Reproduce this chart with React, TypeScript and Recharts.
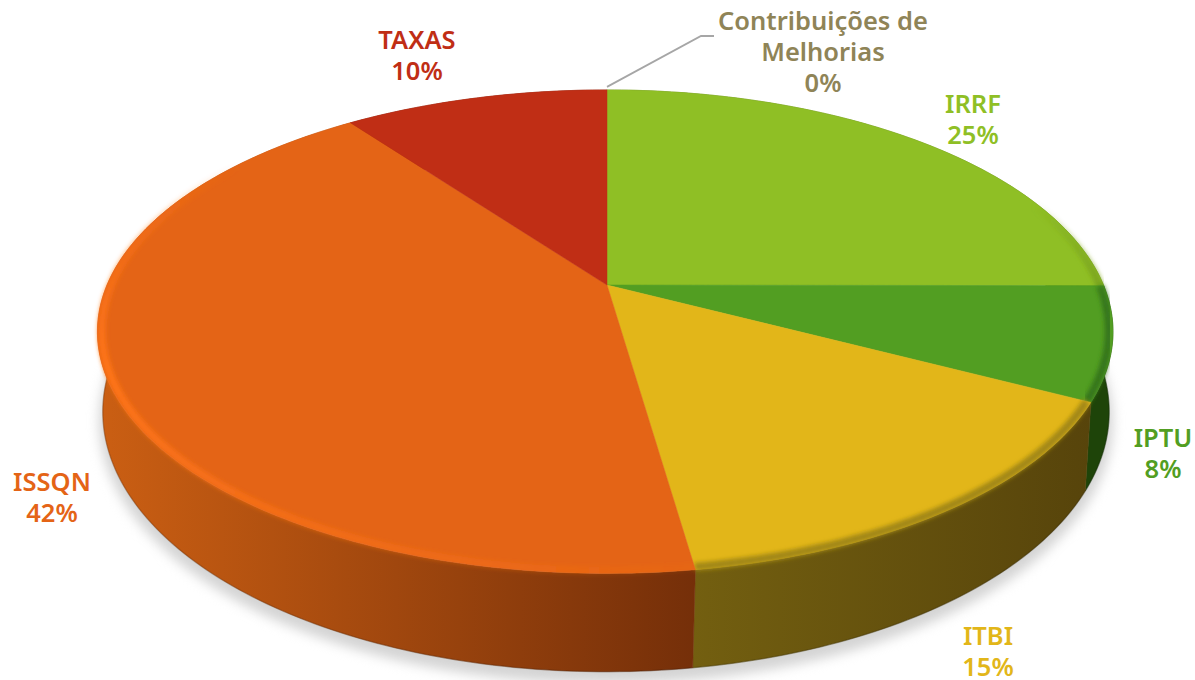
import { Pie, PieChart } from "recharts";

// tax revenue share
const categories = ["IRRF", "IPTU", "ITBI", "ISSQN", "TAXAS", "Contribuições de Melhorias"];
const shares = [25.05, 7.55, 15.1, 42.2, 10.1, 0];

const faceColors = ["#8fbf25", "#529e22", "#e2b619", "#e46416", "#c02e15", "#8f8457"];
const bevelColors = ["#789f1e", "#35751a", "#a08614", "#ff7518", "#c02e15", "#8f8457"];
const wallLeftColors = ["#5f8016", "#1e4409", "#735f10", "#cb5f13", "#7d1e0d", "#5f5838"];
const wallRightColors = ["#5f8016", "#1e4409", "#57440b", "#752f09", "#7d1e0d", "#5f5838"];

// label centres and line breaks
const labelLines = [["IRRF"], ["IPTU"], ["ITBI"], ["ISSQN"], ["TAXAS"], ["Contribuições de", "Melhorias"]];
const labelX = [973, 1163, 988, 52, 417, 823];
const labelY = [113, 447, 645, 491, 49, 30];

const data = categories.map((name, i) => ({ name, value: shares[i], index: i }));

const WIDTH = 1195;
const HEIGHT = 680;
const CX = 607;
const CY = 285;
const RADIUS = 500;

// perspective of the disc: top face and, lower down, the base
const TOP = { x: 0, y: 0, a: 1, ar: 0.993, b: 0.4655, k: 0.193 };
const BASE = { x: -1, y: 80, a: 0.99, ar: 0.99, b: 0.503, k: 0.18 };

type Disc = typeof TOP;

function project(disc: Disc, angle: number, cx: number, cy: number, r: number, scale = 1) {
    const t = ((90 - angle) * Math.PI) / 180;
    const u = Math.sin(t) * scale;
    const v = Math.cos(t) * scale;
    const w = 1 + disc.k * v;
    return [cx + disc.x + (r * (u > 0 ? disc.ar : disc.a) * u) / w, cy + disc.y - (r * disc.b * v) / w];
}

function arc(disc: Disc, from: number, to: number, cx: number, cy: number, r: number, scale = 1) {
    const steps = Math.max(1, Math.ceil(Math.abs(to - from)));
    const pts: number[][] = [];
    for (let i = 0; i <= steps; i++) {
        pts.push(project(disc, from + ((to - from) * i) / steps, cx, cy, r, scale));
    }
    return pts;
}

const toPath = (pts: number[][]) => pts.map((p, i) => `${i ? "L" : "M"}${p[0].toFixed(2)} ${p[1].toFixed(2)}`).join(" ");

// how strong the rounded edge is at a pie angle: dark on the right, lit from the left
function bevelStrength(angle: number) {
    const t = 90 - angle;
    if (t < 68) return 0;
    if (t < 95) return (t - 68) / 27;
    if (t < 172) return 1;
    if (t < 250) return 0.08 + (0.92 * (t - 172)) / 78;
    if (t < 305) return (305 - t) / 55;
    return 0;
}

function ShadowShape(props: any) {
    const { cx, cy, outerRadius, startAngle, endAngle } = props;
    if (startAngle === endAngle) return null;
    const pts = arc(BASE, startAngle, endAngle, cx, cy, outerRadius, 1.006);
    const c = project(BASE, 0, cx, cy, 0);
    return <path d={`M${c[0]} ${c[1] + 9} ` + toPath(pts.map((p) => [p[0], p[1] + 9])).replace("M", "L") + " Z"} fill="#d4d4d4" stroke="#d4d4d4" strokeWidth={1} />;
}

function WallShape(props: any) {
    const { cx, cy, outerRadius, startAngle, endAngle, index } = props;
    if (startAngle === endAngle) return null;
    const top = arc(TOP, startAngle, endAngle, cx, cy, outerRadius);
    const base = arc(BASE, endAngle, startAngle, cx, cy, outerRadius);
    const xs = top.concat(base).map((p) => p[0]);
    const id = `wall-${index}`;
    return (
        <g>
            <defs>
                <linearGradient id={id} gradientUnits="userSpaceOnUse" x1={Math.min(...xs)} x2={Math.max(...xs)} y1={0} y2={0}>
                    <stop offset="0" stopColor={wallLeftColors[index]} />
                    <stop offset="1" stopColor={wallRightColors[index]} />
                </linearGradient>
            </defs>
            <path d={toPath(top.concat(base)) + " Z"} fill={`url(#${id})`} stroke={`url(#${id})`} strokeWidth={0.5} />
            <path d={toPath(base)} fill="none" stroke="#000" strokeOpacity={0.16} strokeWidth={1.5} />
        </g>
    );
}

function FaceShape(props: any) {
    const { cx, cy, outerRadius, startAngle, endAngle, index } = props;
    if (startAngle === endAngle) return null;
    const rim = arc(TOP, startAngle, endAngle, cx, cy, outerRadius);
    const c = project(TOP, 0, cx, cy, 0);
    const soft = `soft-${index}`;
    const edge = arc(TOP, startAngle, endAngle, cx, cy, outerRadius, 0.992);
    const step = (endAngle - startAngle) / (edge.length - 1);
    return (
        <g>
            <path d={`M${c[0]} ${c[1]} ` + toPath(rim).replace("M", "L") + " Z"} fill={faceColors[index]} stroke={faceColors[index]} strokeWidth={0.5} />
            <defs>
                <filter id={soft} x="-5%" y="-5%" width="110%" height="110%">
                    <feGaussianBlur stdDeviation={2} />
                </filter>
            </defs>
            <g filter={`url(#${soft})`}>
                {edge.slice(1).map((p, i) => {
                    const strength = bevelStrength(startAngle + step * (i + 0.5));
                    if (strength === 0) return null;
                    return <path key={i} d={toPath([edge[i], p])} stroke={bevelColors[index]} strokeOpacity={strength} strokeWidth={8} fill="none" />;
                })}
            </g>
        </g>
    );
}

function renderLabel(props: any) {
    const { index, percent, cx, cy, outerRadius, startAngle } = props;
    const lines = labelLines[index];
    const x = labelX[index];
    const y = labelY[index];
    const start = project(TOP, startAngle, cx, cy, outerRadius);
    return (
        <g key={categories[index]}>
            {shares[index] === 0 && (
                <polyline points={`${start[0]},${start[1] - 3} 701,36 714,36`} fill="none" stroke="#a6a6a6" strokeWidth={1.8} />
            )}
            <text x={x} y={y} textAnchor="middle" fill={faceColors[index]} fontFamily="'Noto Sans', sans-serif" fontWeight={600} fontSize={25.5}>
                {lines.map((line, i) => (
                    <tspan key={line} x={x} y={y + i * 31}>
                        {line}
                    </tspan>
                ))}
                <tspan x={x} y={y + lines.length * 31}>
                    {`${Math.round(percent * 100)}%`}
                </tspan>
            </text>
        </g>
    );
}

export default function App() {
    const pieProps = {
        data,
        dataKey: "value",
        nameKey: "name",
        cx: CX,
        cy: CY,
        outerRadius: RADIUS,
        startAngle: 90,
        endAngle: -270,
        stroke: "none",
        isAnimationActive: false,
    };
    return (
        <div style={{ position: "absolute", left: 0, top: 0, width: WIDTH, height: HEIGHT, overflow: "hidden", background: "#fff" }}>
            <style>{`.disc-shadow { filter: blur(6px); }`}</style>
            <PieChart width={WIDTH} height={HEIGHT} margin={{ top: 0, right: 0, bottom: 0, left: 0 }}>
                <Pie {...pieProps} className="disc-shadow" shape={ShadowShape} />
                <Pie {...pieProps} shape={WallShape} />
                <Pie {...pieProps} shape={FaceShape} label={renderLabel} labelLine={false} />
            </PieChart>
        </div>
    );
}
